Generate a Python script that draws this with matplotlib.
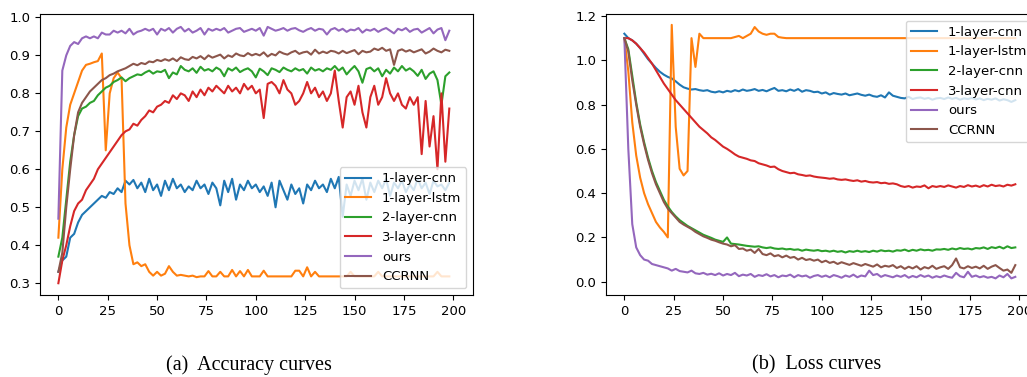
"""
accuracy and loss curves of the six models, side by side.
"""

import numpy as np
import matplotlib.pyplot as plt

# one value every 2 epochs
epochs = np.arange(0, 200, 2)
labels = ["1-layer-cnn", "1-layer-lstm", "2-layer-cnn", "3-layer-cnn", "ours", "CCRNN"]

acc_1cnn = [0.33, 0.36, 0.37, 0.42, 0.43, 0.46, 0.48, 0.49, 0.5, 0.51,
            0.52, 0.53, 0.525, 0.54, 0.535, 0.55, 0.54, 0.57, 0.56, 0.572,
            0.55, 0.565, 0.54, 0.575, 0.545, 0.56, 0.53, 0.57, 0.545, 0.575,
            0.55, 0.56, 0.54, 0.555, 0.545, 0.57, 0.55, 0.56, 0.535, 0.565,
            0.55, 0.505, 0.57, 0.54, 0.575, 0.52, 0.56, 0.545, 0.57, 0.55,
            0.56, 0.54, 0.555, 0.53, 0.565, 0.5, 0.57, 0.545, 0.52, 0.56,
            0.535, 0.55, 0.51, 0.56, 0.545, 0.57, 0.55, 0.56, 0.54, 0.575,
            0.55, 0.58, 0.475, 0.56, 0.53, 0.57, 0.545, 0.575, 0.52, 0.565,
            0.54, 0.57, 0.55, 0.575, 0.53, 0.565, 0.55, 0.57, 0.54, 0.56,
            0.545, 0.575, 0.55, 0.565, 0.535, 0.57, 0.555, 0.56, 0.545, 0.565]
acc_lstm = [0.42, 0.6, 0.71, 0.77, 0.8, 0.83, 0.86, 0.875, 0.878, 0.882,
            0.885, 0.905, 0.65, 0.8, 0.84, 0.855, 0.84, 0.51, 0.4, 0.35,
            0.355, 0.345, 0.35, 0.33, 0.32, 0.33, 0.32, 0.325, 0.345, 0.33,
            0.32, 0.322, 0.32, 0.318, 0.32, 0.316, 0.318, 0.318, 0.332, 0.318,
            0.318, 0.33, 0.318, 0.318, 0.335, 0.318, 0.332, 0.318, 0.335, 0.318,
            0.318, 0.318, 0.333, 0.318, 0.318, 0.318, 0.318, 0.318, 0.318, 0.318,
            0.333, 0.333, 0.318, 0.342, 0.318, 0.33, 0.318, 0.318, 0.318, 0.318,
            0.318, 0.318, 0.318, 0.318, 0.33, 0.318, 0.318, 0.318, 0.318, 0.318,
            0.318, 0.33, 0.318, 0.318, 0.318, 0.318, 0.318, 0.318, 0.318, 0.318,
            0.318, 0.318, 0.318, 0.318, 0.318, 0.318, 0.33, 0.318, 0.318, 0.318]
acc_2cnn = [0.37, 0.42, 0.52, 0.62, 0.69, 0.74, 0.76, 0.765, 0.775, 0.78,
            0.795, 0.805, 0.815, 0.82, 0.83, 0.835, 0.842, 0.832, 0.84, 0.845,
            0.85, 0.848, 0.855, 0.86, 0.852, 0.858, 0.856, 0.862, 0.84, 0.855,
            0.85, 0.872, 0.862, 0.858, 0.866, 0.854, 0.87, 0.86, 0.864, 0.858,
            0.868, 0.862, 0.845, 0.866, 0.86, 0.868, 0.856, 0.862, 0.866, 0.858,
            0.842, 0.865, 0.858, 0.848, 0.866, 0.862, 0.856, 0.868, 0.862, 0.858,
            0.866, 0.86, 0.864, 0.852, 0.868, 0.86, 0.864, 0.858, 0.866, 0.862,
            0.872, 0.86, 0.868, 0.85, 0.862, 0.872, 0.858, 0.828, 0.864, 0.868,
            0.858, 0.866, 0.845, 0.862, 0.852, 0.868, 0.858, 0.872, 0.86, 0.866,
            0.858, 0.846, 0.862, 0.838, 0.852, 0.858, 0.835, 0.77, 0.845, 0.855]
acc_3cnn = [0.30, 0.36, 0.40, 0.45, 0.49, 0.51, 0.52, 0.545, 0.56, 0.575,
            0.6, 0.615, 0.63, 0.645, 0.66, 0.675, 0.69, 0.7, 0.705, 0.72,
            0.715, 0.73, 0.74, 0.755, 0.75, 0.765, 0.77, 0.78, 0.775, 0.795,
            0.785, 0.8, 0.795, 0.78, 0.805, 0.79, 0.81, 0.795, 0.815, 0.805,
            0.82, 0.81, 0.8, 0.82, 0.805, 0.815, 0.8, 0.825, 0.81, 0.82,
            0.8, 0.81, 0.735, 0.825, 0.83, 0.82, 0.8, 0.835, 0.81, 0.8,
            0.77, 0.78, 0.8, 0.83, 0.8, 0.815, 0.79, 0.805, 0.78, 0.8,
            0.86, 0.78, 0.71, 0.79, 0.805, 0.77, 0.82, 0.75, 0.71, 0.79,
            0.82, 0.77, 0.79, 0.84, 0.8, 0.78, 0.8, 0.77, 0.76, 0.79,
            0.77, 0.79, 0.64, 0.78, 0.66, 0.74, 0.6, 0.8, 0.62, 0.76]
acc_ours = [0.47, 0.86, 0.90, 0.925, 0.935, 0.93, 0.945, 0.95, 0.945, 0.95,
            0.945, 0.96, 0.955, 0.955, 0.965, 0.96, 0.965, 0.958, 0.97, 0.955,
            0.962, 0.965, 0.97, 0.965, 0.97, 0.955, 0.97, 0.965, 0.972, 0.96,
            0.97, 0.975, 0.963, 0.97, 0.96, 0.965, 0.972, 0.955, 0.97, 0.965,
            0.97, 0.966, 0.972, 0.96, 0.965, 0.97, 0.972, 0.962, 0.966, 0.97,
            0.965, 0.972, 0.952, 0.975, 0.97, 0.965, 0.968, 0.972, 0.965, 0.97,
            0.972, 0.966, 0.962, 0.968, 0.972, 0.965, 0.97, 0.968, 0.955, 0.968,
            0.972, 0.965, 0.97, 0.962, 0.968, 0.966, 0.972, 0.96, 0.968, 0.965,
            0.97, 0.962, 0.968, 0.972, 0.965, 0.958, 0.97, 0.966, 0.972, 0.962,
            0.968, 0.97, 0.96, 0.966, 0.972, 0.958, 0.968, 0.972, 0.94, 0.965]
acc_ccrnn = [0.33, 0.38, 0.5, 0.6, 0.69, 0.75, 0.775, 0.79, 0.805, 0.815,
             0.825, 0.835, 0.84, 0.848, 0.852, 0.858, 0.862, 0.866, 0.872, 0.878,
             0.874, 0.88, 0.877, 0.884, 0.882, 0.888, 0.885, 0.89, 0.886, 0.892,
             0.885, 0.895, 0.89, 0.888, 0.896, 0.892, 0.898, 0.89, 0.9, 0.894,
             0.898, 0.902, 0.892, 0.9, 0.896, 0.905, 0.9, 0.898, 0.906, 0.9,
             0.904, 0.9, 0.908, 0.897, 0.904, 0.9, 0.91, 0.905, 0.902, 0.908,
             0.912, 0.904, 0.908, 0.91, 0.902, 0.915, 0.905, 0.91, 0.906, 0.912,
             0.91, 0.905, 0.912, 0.906, 0.91, 0.914, 0.903, 0.912, 0.908, 0.91,
             0.918, 0.914, 0.92, 0.912, 0.916, 0.875, 0.912, 0.916, 0.91, 0.914,
             0.908, 0.912, 0.916, 0.905, 0.91, 0.918, 0.912, 0.908, 0.915, 0.912]

loss_1cnn = [1.12, 1.1, 1.09, 1.075, 1.055, 1.03, 1.005, 0.985, 0.965, 0.948,
             0.935, 0.925, 0.918, 0.905, 0.89, 0.878, 0.872, 0.868, 0.87, 0.865,
             0.862, 0.865, 0.858, 0.855, 0.86, 0.855, 0.862, 0.858, 0.865, 0.86,
             0.868, 0.862, 0.865, 0.87, 0.862, 0.866, 0.86, 0.868, 0.875, 0.862,
             0.865, 0.86, 0.868, 0.862, 0.87, 0.858, 0.865, 0.862, 0.856, 0.858,
             0.85, 0.855, 0.845, 0.852, 0.848, 0.845, 0.85, 0.842, 0.846, 0.85,
             0.844, 0.84, 0.845, 0.838, 0.835, 0.842, 0.832, 0.855, 0.84, 0.835,
             0.83, 0.828, 0.835, 0.825, 0.83, 0.832, 0.826, 0.83, 0.822, 0.828,
             0.83, 0.825, 0.832, 0.826, 0.83, 0.822, 0.828, 0.825, 0.83, 0.823,
             0.828, 0.82, 0.826, 0.822, 0.828, 0.818, 0.824, 0.82, 0.812, 0.82]
loss_lstm = [1.1, 0.95, 0.72, 0.57, 0.47, 0.4, 0.35, 0.31, 0.27, 0.245,
             0.225, 0.2, 1.16, 0.7, 0.51, 0.48, 0.5, 1.1, 0.97, 1.12,
             1.1, 1.1, 1.1, 1.1, 1.1, 1.1, 1.1, 1.1, 1.105, 1.11,
             1.1, 1.11, 1.12, 1.15, 1.13, 1.12, 1.115, 1.12, 1.12, 1.105,
             1.102, 1.1, 1.1, 1.1, 1.1, 1.1, 1.1, 1.1, 1.1, 1.1,
             1.1, 1.1, 1.1, 1.1, 1.1, 1.1, 1.1, 1.1, 1.1, 1.1,
             1.1, 1.1, 1.1, 1.1, 1.1, 1.1, 1.1, 1.1, 1.1, 1.1,
             1.1, 1.1, 1.1, 1.1, 1.1, 1.1, 1.1, 1.1, 1.1, 1.1,
             1.1, 1.1, 1.1, 1.1, 1.1, 1.1, 1.1, 1.1, 1.1, 1.1,
             1.1, 1.1, 1.1, 1.1, 1.1, 1.1, 1.1, 1.1, 1.1, 1.1]
loss_2cnn = [1.1, 1.05, 0.93, 0.81, 0.71, 0.63, 0.56, 0.5, 0.45, 0.41,
             0.37, 0.34, 0.315, 0.295, 0.278, 0.265, 0.252, 0.242, 0.232, 0.222,
             0.212, 0.205, 0.198, 0.19, 0.185, 0.18, 0.2, 0.172, 0.17, 0.168,
             0.165, 0.162, 0.16, 0.158, 0.16, 0.155, 0.152, 0.155, 0.15, 0.148,
             0.15, 0.146, 0.148, 0.144, 0.146, 0.14, 0.145, 0.142, 0.14, 0.143,
             0.138, 0.14, 0.136, 0.14, 0.135, 0.138, 0.132, 0.138, 0.135, 0.14,
             0.135, 0.138, 0.134, 0.14, 0.136, 0.142, 0.138, 0.14, 0.136, 0.142,
             0.14, 0.145, 0.138, 0.144, 0.14, 0.146, 0.142, 0.144, 0.14, 0.146,
             0.145, 0.148, 0.144, 0.15, 0.146, 0.152, 0.148, 0.15, 0.146, 0.152,
             0.15, 0.155, 0.148, 0.156, 0.152, 0.158, 0.15, 0.16, 0.152, 0.155]
loss_3cnn = [1.1, 1.1, 1.09, 1.075, 1.055, 1.035, 1.01, 0.985, 0.955, 0.925,
             0.895, 0.87, 0.845, 0.82, 0.8, 0.78, 0.76, 0.74, 0.72, 0.7,
             0.685, 0.67, 0.652, 0.64, 0.625, 0.61, 0.6, 0.588, 0.575, 0.565,
             0.56, 0.555, 0.548, 0.545, 0.535, 0.53, 0.525, 0.518, 0.52, 0.508,
             0.5, 0.495, 0.49, 0.492, 0.485, 0.482, 0.478, 0.48, 0.475, 0.472,
             0.47, 0.468, 0.465, 0.467, 0.462, 0.46, 0.462, 0.458, 0.455, 0.458,
             0.452, 0.455, 0.45, 0.448, 0.45, 0.445, 0.447, 0.442, 0.444, 0.44,
             0.432, 0.428, 0.432, 0.425, 0.43, 0.428, 0.435, 0.422, 0.432, 0.428,
             0.432, 0.428, 0.435, 0.43, 0.425, 0.432, 0.428, 0.436, 0.43, 0.434,
             0.428, 0.436, 0.43, 0.438, 0.432, 0.435, 0.43, 0.438, 0.434, 0.44]
loss_ours = [1.1, 0.6, 0.26, 0.155, 0.12, 0.1, 0.095, 0.08, 0.075, 0.07,
             0.065, 0.06, 0.05, 0.058, 0.048, 0.045, 0.042, 0.05, 0.038, 0.035,
             0.04, 0.032, 0.036, 0.03, 0.038, 0.028, 0.035, 0.03, 0.04, 0.025,
             0.032, 0.028, 0.035, 0.022, 0.03, 0.026, 0.034, 0.024, 0.03, 0.02,
             0.028, 0.025, 0.032, 0.02, 0.03, 0.024, 0.028, 0.018, 0.026, 0.03,
             0.022, 0.028, 0.02, 0.03, 0.025, 0.018, 0.028, 0.022, 0.032, 0.02,
             0.028, 0.024, 0.05, 0.03, 0.035, 0.022, 0.03, 0.025, 0.02, 0.028,
             0.022, 0.03, 0.018, 0.026, 0.02, 0.03, 0.022, 0.028, 0.018, 0.025,
             0.02, 0.028, 0.022, 0.018, 0.04, 0.025, 0.02, 0.045, 0.022, 0.028,
             0.02, 0.025, 0.018, 0.022, 0.015, 0.028, 0.02, 0.035, 0.015, 0.022]
loss_ccrnn = [1.1, 1.04, 0.91, 0.8, 0.7, 0.62, 0.55, 0.49, 0.44, 0.4,
              0.36, 0.33, 0.31, 0.29, 0.27, 0.258, 0.248, 0.238, 0.225, 0.215,
              0.205, 0.198, 0.19, 0.185, 0.178, 0.172, 0.168, 0.16, 0.165, 0.148,
              0.15, 0.14, 0.145, 0.13, 0.148, 0.125, 0.12, 0.128, 0.115, 0.12,
              0.11, 0.118, 0.108, 0.112, 0.1, 0.108, 0.098, 0.102, 0.095, 0.1,
              0.088, 0.095, 0.085, 0.09, 0.08, 0.088, 0.082, 0.076, 0.084, 0.078,
              0.072, 0.08, 0.074, 0.068, 0.078, 0.065, 0.072, 0.068, 0.075, 0.062,
              0.07, 0.058, 0.068, 0.06, 0.07, 0.055, 0.066, 0.06, 0.072, 0.058,
              0.065, 0.07, 0.058, 0.075, 0.105, 0.065, 0.06, 0.07, 0.062, 0.068,
              0.06, 0.072, 0.058, 0.068, 0.075, 0.062, 0.05, 0.055, 0.04, 0.075]

acc_curves = [acc_1cnn, acc_lstm, acc_2cnn, acc_3cnn, acc_ours, acc_ccrnn]
loss_curves = [loss_1cnn, loss_lstm, loss_2cnn, loss_3cnn, loss_ours, loss_ccrnn]

plt.rcParams["font.size"] = 9.5

fig = plt.figure(figsize=(10.27, 3.77), dpi=100)
ax1 = fig.add_axes([40 / 1027, 82 / 377, 433 / 1027, 281 / 377])
# the right panel runs past the page edge in the original
ax2 = fig.add_axes([606 / 1027, 82 / 377, 433 / 1027, 281 / 377])

for curve, label in zip(acc_curves, labels):
    ax1.plot(epochs, curve, label=label, lw=1.5)
ax1.set_xlim(-9.3, 210)
ax1.set_ylim(0.269, 1.009)
ax1.set_xticks(np.arange(0, 201, 25))
ax1.set_yticks(np.arange(0.3, 1.01, 0.1))
ax1.legend(loc="lower right", fontsize=9.5)

for curve, label in zip(loss_curves, labels):
    ax2.plot(epochs, curve, label=label, lw=1.5)
ax2.set_xlim(-9.3, 210)
ax2.set_ylim(-0.06, 1.209)
ax2.set_xticks(np.arange(0, 201, 25))
ax2.set_yticks(np.arange(0.0, 1.21, 0.2))
ax2.legend(loc="upper right", fontsize=9.5)

fig.text(249 / 1027, 1 - 365 / 377, "(a)  Accuracy curves", family="Liberation Serif",
         fontsize=14.5, ha="center", va="center")
fig.text(817 / 1027, 1 - 365 / 377, "(b)  Loss curves", family="Liberation Serif",
         fontsize=14.5, ha="center", va="center")

fig.savefig("out.png", dpi=100)
